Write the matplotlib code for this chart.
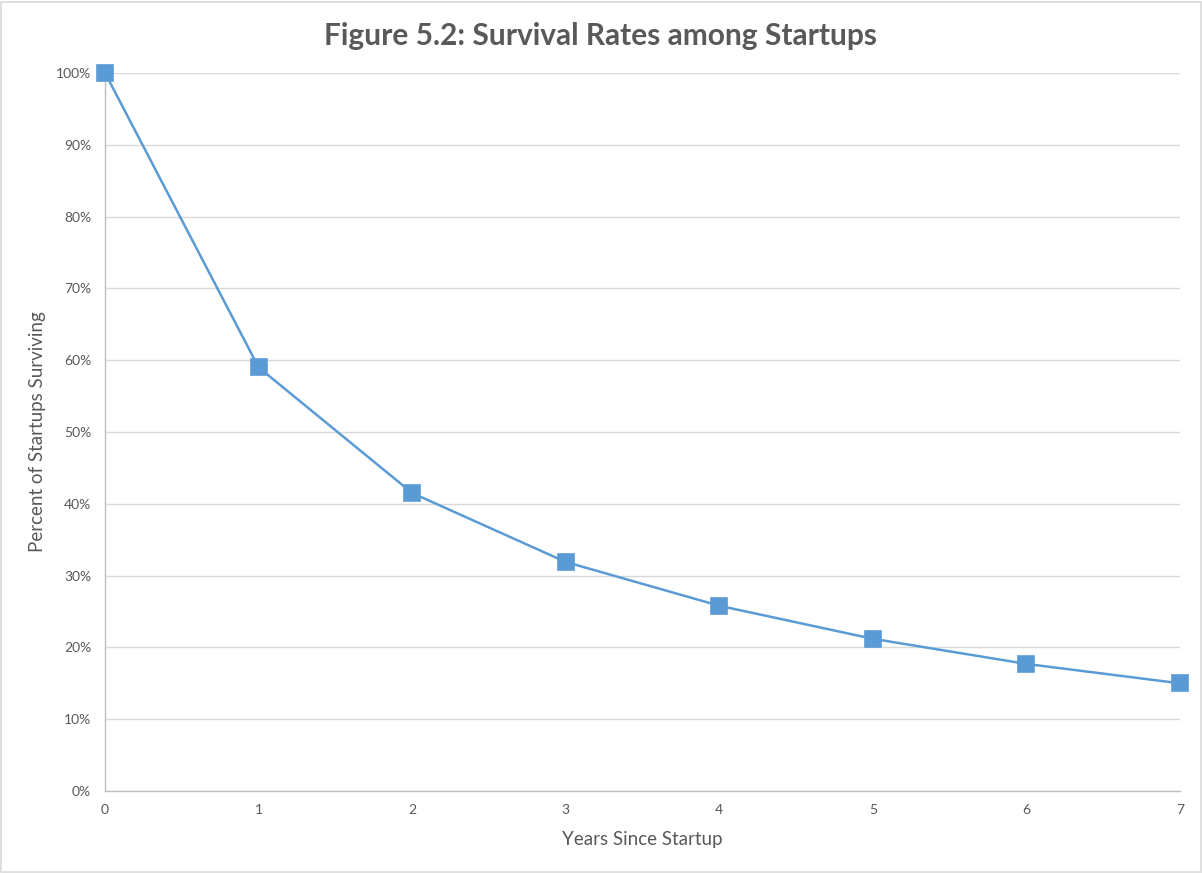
import matplotlib
matplotlib.use("Agg")
import matplotlib.pyplot as plt
from matplotlib.ticker import PercentFormatter, MultipleLocator
from matplotlib.patches import Rectangle

years = [0, 1, 2, 3, 4, 5, 6, 7]
survival_pct = [100, 59.0, 41.5, 31.9, 25.8, 21.2, 17.7, 15.0]

title = "Figure 5.2: Survival Rates among Startups"
x_label = "Years Since Startup"
y_label = "Percent of Startups Surviving"

plt.rcParams['font.family'] = ['Lato', 'DejaVu Sans']
text_grey = "#595959"
series_blue = "#5B9BD5"

fig = plt.figure(figsize=(12.02, 8.73), dpi=100)
ax = fig.add_axes([0.0874, 0.0939, 0.8943, 0.8225])

ax.plot(years, survival_pct, color=series_blue, linewidth=1.8,
        marker="s", markersize=11.5, markerfacecolor=series_blue,
        markeredgecolor=series_blue, markeredgewidth=1.2,
        clip_on=False, zorder=3)

ax.set_xlim(0, 7)
ax.set_ylim(0, 100)
ax.yaxis.set_major_locator(MultipleLocator(10))
ax.xaxis.set_major_locator(MultipleLocator(1))
ax.yaxis.set_major_formatter(PercentFormatter(decimals=0))

ax.grid(axis="y", color="#D9D9D9", linewidth=1.0)
ax.set_axisbelow(True)
for side in ("top", "right"):
    ax.spines[side].set_visible(False)
for side in ("left", "bottom"):
    ax.spines[side].set_color("#BFBFBF")
    ax.spines[side].set_linewidth(1.0)

ax.tick_params(axis="both", length=0, labelsize=10, labelcolor=text_grey)
ax.tick_params(axis="y", pad=10)
ax.tick_params(axis="x", pad=9)

ax.set_xlabel(x_label, fontsize=13.5, color=text_grey, labelpad=11)
ax.set_ylabel(y_label, fontsize=13.5, color=text_grey, labelpad=7)

fig.text(0.5, 0.959, title, ha="center", va="center", fontsize=21.5,
         fontweight="bold", color=text_grey)

# thin outer frame around the chart
fig.patches.append(Rectangle((0.001, 0.001), 0.998, 0.997, transform=fig.transFigure,
                             fill=False, edgecolor="#D9D9D9", linewidth=1.2))

fig.savefig("out.png", dpi=100, facecolor="white")
